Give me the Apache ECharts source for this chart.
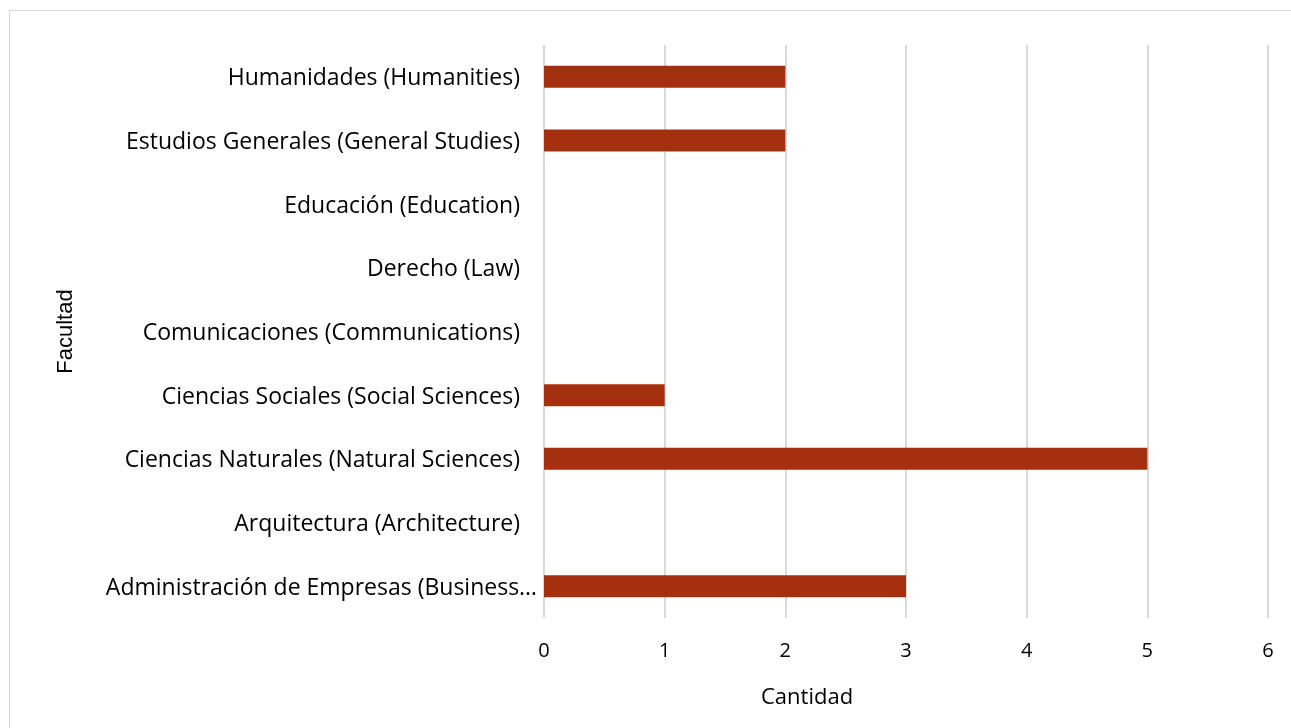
<!DOCTYPE html>
<html><head><meta charset="utf-8">
<script src="https://cdn.jsdelivr.net/npm/echarts@6/dist/echarts.min.js"></script>
<style>
html,body{margin:0;padding:0;background:#fff;}
#frame{position:absolute;left:9px;top:10px;width:1300px;height:740px;border:1px solid #d9d9d9;box-sizing:border-box;}
#c{position:absolute;left:0;top:0;width:1291px;height:728px;}
</style></head>
<body>
<div id="frame"></div>
<div id="c"></div>
<script>
const categories = [
  "Administración de Empresas (Business Administration)",
  "Arquitectura (Architecture)",
  "Ciencias Naturales (Natural Sciences)",
  "Ciencias Sociales (Social Sciences)",
  "Comunicaciones (Communications)",
  "Derecho (Law)",
  "Educación (Education)",
  "Estudios Generales (General Studies)",
  "Humanidades (Humanities)"
];
const values = [3, 0, 5, 1, 0, 0, 0, 2, 2];
const xTicks = [0, 1, 2, 3, 4, 5, 6];
const xTitle = 'Cantidad';
const yTitle = 'Facultad';

const chart = echarts.init(document.getElementById('c'), null, {renderer: 'canvas'});
const font = "'Open Sans', sans-serif";
chart.setOption({
  animation: false,
  grid: {left: 544, right: 23, top: 45, bottom: 110, containLabel: false},
  xAxis: {
    type: 'value', min: xTicks[0], max: xTicks[xTicks.length - 1], interval: 1,
    axisLine: {show: false}, axisTick: {show: false},
    axisLabel: {fontFamily: font, fontSize: 20, color: '#000', margin: 23},
    splitLine: {lineStyle: {color: '#d9d9d9', width: 2}}
  },
  yAxis: {
    type: 'category', data: categories,
    name: yTitle, nameLocation: 'middle', nameGap: 467, nameRotate: 90,
    nameTextStyle: {fontFamily: 'Liberation Sans, Arial, sans-serif', fontSize: 22, color: '#000'},
    axisLine: {show: false}, axisTick: {show: false},
    axisLabel: {fontFamily: font, fontSize: 23, color: '#000', margin: 7,
      width: 433, overflow: 'truncate', ellipsis: '…',
      formatter: v => v.length > 40 ? '{t|' + v + '}' : '{n|' + v + '}',
      rich: {
        n: {fontFamily: font, fontSize: 23, color: '#000', padding: [4, 17, 0, 0]},
        t: {fontFamily: font, fontSize: 23, color: '#000', padding: [4, 0, 0, 0]}
      }
    }
  },
  graphic: [{
    type: 'text', left: 810 - 49, top: 687,
    style: {text: xTitle, fontFamily: font, fontSize: 22, fill: '#000'}
  }],
  series: [{
    type: 'bar', data: values, barWidth: 22,
    itemStyle: {color: '#A5300F'}
  }]
});
</script>
</body></html>
